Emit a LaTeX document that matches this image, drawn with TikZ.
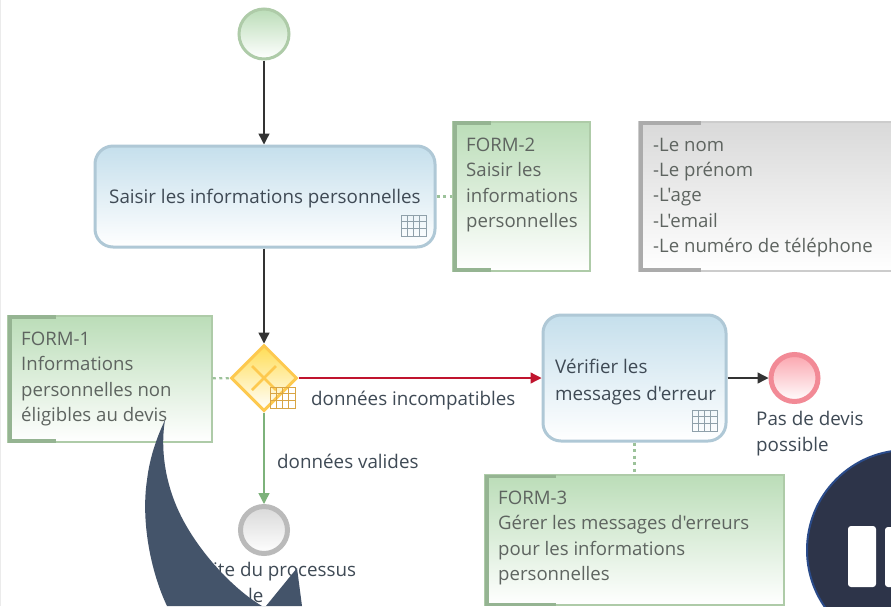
\documentclass[tikz,border=0pt]{standalone}
\usepackage{fontspec}
\newfontfamily\bpmnfont{Open Sans}
\usetikzlibrary{shapes.geometric,arrows.meta}
\definecolor{ink}{HTML}{3F4A55}
\definecolor{notetext}{HTML}{5E6460}
\definecolor{greenline}{HTML}{AECBA8}
\definecolor{greenbar}{HTML}{95B492}
\definecolor{greentop}{HTML}{BBDDB8}
\definecolor{greyline}{HTML}{CCCCCC}
\definecolor{greybar}{HTML}{ABABAB}
\definecolor{greytop}{HTML}{D9D9D9}
\definecolor{taskline}{HTML}{AFC8D6}
\definecolor{tasktop}{HTML}{C5DFEC}
\definecolor{iconblue}{HTML}{8FA0AA}
\definecolor{iconorange}{HTML}{D8A545}
\definecolor{gateline}{HTML}{FDC94F}
\definecolor{gatetop}{HTML}{FFDD55}
\definecolor{flowdark}{HTML}{333333}
\definecolor{flowred}{HTML}{C0142E}
\definecolor{flowgreen}{HTML}{7DB27B}
\definecolor{assoc}{HTML}{9CC29A}
\definecolor{navy}{HTML}{44546A}
\definecolor{disc}{HTML}{2D3449}
\definecolor{discline}{HTML}{2A4B8A}
\definecolor{endred}{HTML}{F28A96}
\definecolor{endredtop}{HTML}{FBA5AE}
\tikzset{
  x=1pt,y=-1pt,
  notebox/.style={rectangle,draw=greenline,line width=1.5pt,top color=greentop,bottom color=white,inner sep=0pt,minimum width=#1},
  greybox/.style={rectangle,draw=greyline,line width=1.5pt,top color=greytop,bottom color=white,inner sep=0pt,minimum width=#1},
  taskbox/.style={rectangle,rounded corners=18pt,draw=taskline,line width=3pt,top color=tasktop,bottom color=white,inner sep=0pt,minimum width=#1},
  txt/.style={anchor=north west,inner sep=0pt,align=left,text=ink,font=\bpmnfont\fontsize{18.8}{26.5}\selectfont},
  notetxt/.style={anchor=north west,inner sep=0pt,align=left,text=notetext,font=\bpmnfont\fontsize{18.6}{25.2}\selectfont},
  flow/.style={line width=1.4pt,-{Triangle[length=11pt,width=11pt]}},
  assocline/.style={assoc,line width=2.2pt,dash pattern=on 3pt off 3.5pt},
  bracket/.style={line width=3.5pt,line cap=butt},
  icongrid/.style={line width=1pt},
}
\newcommand{\tableicon}[3]{% x,y,colour
  \begin{scope}[shift={(#1,#2)},#3,icongrid]
    \draw (0,0) rectangle (25,21);
    \draw (0,6) -- (25,6) (0,13.5) -- (25,13.5);
    \draw (6.2,0) -- (6.2,21) (12.5,0) -- (12.5,21) (18.8,0) -- (18.8,21);
  \end{scope}}
\begin{document}
\begin{tikzpicture}
\useasboundingbox (0,0) rectangle (891,606);
\clip (0,0) rectangle (891,606);
\fill[white] (0,0) rectangle (891,606);
\draw[black!8,line width=1pt] (0.5,0) -- (0.5,606);

% Notes
\node[notebox=137pt,minimum height=149pt] (form2) at (521.5,196.5) {};
\node[greybox=254pt,minimum height=149pt] (grey) at (766,196.5) {};
\node[notebox=204pt,minimum height=126pt] (form1) at (110,379) {};
\node[notebox=299pt,minimum height=130pt] (form3) at (634.5,540) {};
\draw[greenbar,bracket] (491,123) -- (455,123) -- (455,270) -- (491,270);
\draw[greybar,bracket] (701,123) -- (641,123) -- (641,270) -- (701,270);
\draw[greenbar,bracket] (56,317) -- (10,317) -- (10,441) -- (56,441);
\draw[greenbar,bracket] (556,476.5) -- (487,476.5) -- (487,604.5) -- (556,604.5);

% Flow elements
\node[circle,draw=greenline,line width=3pt,top color=greentop,bottom color=white,minimum size=50pt,inner sep=0pt] (start) at (264,34) {};
\node[taskbox=340pt,minimum height=101pt] (task1) at (265,196.5) {};
\node[taskbox=183pt,minimum height=126pt] (task2) at (634.5,378) {};
\node[diamond,aspect=1,draw=gateline,line width=3pt,top color=gatetop,bottom color=white,minimum width=66pt,minimum height=66pt,inner sep=0pt] (gate) at (264,378) {};
\node[circle,draw=black!27,line width=5pt,top color=black!15,bottom color=white,minimum size=47pt,inner sep=0pt] (grayend) at (264,530) {};
\node[circle,draw=endred,line width=5pt,top color=endredtop,bottom color=white,minimum size=47pt,inner sep=0pt] (redend) at (794.5,378) {};

% gateway marker
\draw[gateline,line width=2.5pt] (252,366) -- (276,390) (276,366) -- (252,390);

% table icons
\tableicon{401}{215}{iconblue}
\tableicon{692}{410}{iconblue}
\tableicon{270}{387}{iconorange}

% connectors
\draw[flow,flowdark] (start) -- (task1.north -| start);
\draw[flow,flowdark] (task1.south -| gate) -- (gate);
\draw[flow,flowred,line width=1.3pt] (gate) -- (task2);
\draw[flow,flowgreen] (gate) -- (grayend);
\draw[flow,flowdark] (task2) -- (redend);
\draw[assocline] (task1) -- (form2);
\draw[assocline] (form1) -- (gate);
\draw[assocline] (task2) -- (form3);

% texts
\node[txt] (t1) at (109,189) {Saisir les informations personnelles};
\node[txt] (t2) at (555,359) {Vérifier les\\messages d'erreur};
\node[txt] at (311,391) {données incompatibles};
\node[txt] at (277,454) {données valides};
\node[txt] at (756,411) {Pas de devis\\possible};
\node[txt] at (213,562) {ite du processus};
\node[txt] at (248,588) {le};
\node[notetxt] at (466,138) {FORM-2\\Saisir les\\informations\\personnelles};
\node[notetxt] at (653,138) {-Le nom\\-Le prénom\\-L'age\\-L'email\\-Le numéro de téléphone};
\node[notetxt] at (21,332) {FORM-1\\Informations\\personnelles non\\éligibles au devis};
\node[notetxt] at (498,491) {FORM-3\\Gérer les messages d'erreurs\\pour les informations\\personnelles};

% overlays
\fill[navy] (165,420) .. controls (160,450) and (165,490) .. (187,527)
  .. controls (205,558) and (235,590) .. (262,606) -- (266,606) -- (297,568) -- (302,606) -- (167,606)
  .. controls (150,570) and (141,520) .. (147,480) .. controls (150,455) and (158,435) .. (165,420) -- cycle;
\fill[disc,draw=discline,line width=2pt] (907,550) circle (100);
\fill[white,rounded corners=3pt] (848,526) -- (876,526) -- (876,587) -- (848,587) -- cycle;
\fill[white,rounded corners=3pt] (885,527) -- (900,527) -- (900,587) -- (885,587) -- cycle;
\end{tikzpicture}
\end{document}
